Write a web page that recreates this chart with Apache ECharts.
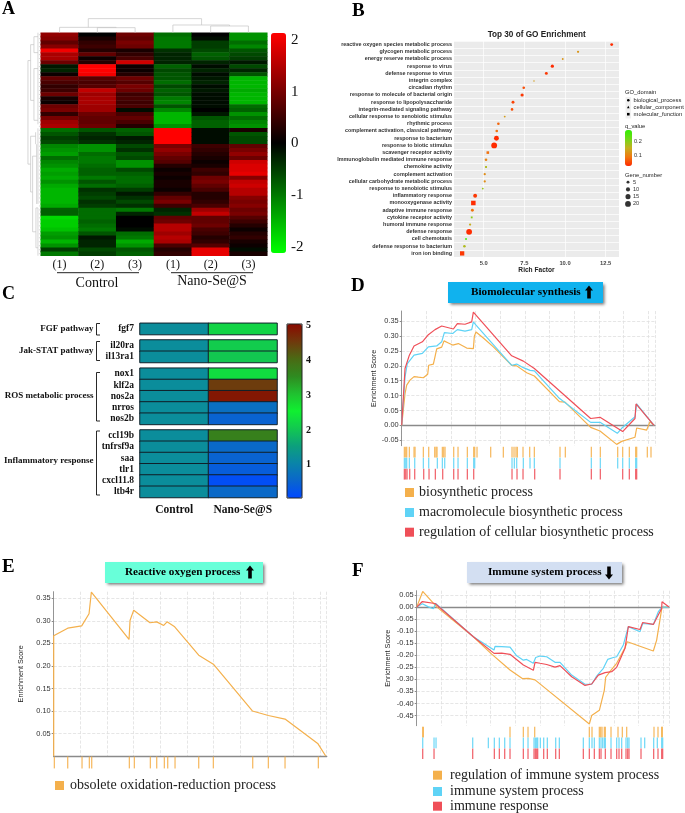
<!DOCTYPE html>
<html><head><meta charset="utf-8">
<style>html,body{margin:0;padding:0;background:#fff}#c{width:685px;height:813px}</style>
<script src="https://cdn.jsdelivr.net/npm/echarts@6/dist/echarts.min.js"></script>
</head><body><div id="c"></div>
<script>
// ---------- Panel A : expression heatmap ----------
const heatColumns = ['(1)','(2)','(3)','(1)','(2)','(3)'];
const control1 = [1.2,1.1,0.8,1.1,2.0,1.4,1.4,0.9,-0.2,-0.3,0.1,0.8,0.6,0.4,0.5,0.9,0.2,0.1,0.9,1.0,0.4,1.0,1.3,1.4,-0.9,-0.7,-0.5,-0.6,-1.1,-1.2,-1.3,-0.9,-1.1,-1.2,-1.4,-1.3,-1.4,-1.2,-1.4,-1.5,-1.5,-1.5,-1.5,-1.4,-0.8,-0.8,-1.8,-1.7,-1.7,-1.6,-1.3,-1.2,-1.5,-1.2,-0.5,-1.0];
const control2 = [0.0,0.2,0.4,0.5,0.3,0.8,0.1,0.3,2.1,2.1,2.0,0.7,0.6,0.7,1.6,1.3,1.4,1.4,1.3,1.3,0.9,0.8,0.8,0.9,-0.7,-0.4,-0.3,-0.4,-1.2,-1.2,-0.9,-1.0,-1.0,-0.9,-0.8,-0.8,-1.0,-0.7,-0.9,-0.4,-0.5,-0.6,-0.4,-0.5,-0.9,-0.9,-0.9,-0.8,-0.9,-1.0,-0.7,-0.2,-0.3,-0.3,-0.6,-0.5];
const control3 = [0.9,0.8,1.0,0.9,0.2,0.4,0.6,1.7,0.1,0.1,0.3,0.9,0.7,1.0,0.9,0.5,0.6,0.5,0.6,-0.1,0.6,0.8,0.6,0.3,-0.8,-0.7,-0.2,-0.3,-0.6,-0.4,-0.7,-0.6,-1.2,-1.2,-0.6,-0.8,-0.9,-0.9,-0.8,-0.5,-0.2,-0.4,-0.6,-0.4,-1.0,-0.3,0.0,0.0,0.0,-0.1,-0.9,-1.0,-1.4,-1.2,-0.7,-0.8];
const nano1 = [-0.9,-1.0,-1.0,-1.0,-0.4,-0.3,-0.3,-0.3,-0.8,-0.6,-0.7,-0.7,-0.9,-0.6,-0.8,-0.7,-1.0,-1.1,-0.7,-1.1,-1.5,-1.5,-1.5,-1.2,2.1,2.1,2.1,2.1,1.0,1.2,1.0,0.8,0.7,0.3,0.1,0.2,0.1,0.2,0.2,0.1,0.4,0.8,1.0,0.5,-0.3,-0.4,0.8,0.9,1.5,1.5,1.3,1.5,1.4,0.6,0.3,0.4];
const nano2 = [0.0,-0.1,-0.5,-0.5,-0.6,-0.8,-0.7,-0.3,-0.1,-0.3,-0.1,-0.2,-0.3,-0.1,-0.2,-0.1,-0.1,-0.1,-0.1,0.0,-0.2,-0.7,-0.8,-0.8,-0.1,-0.1,-0.1,-0.1,0.5,0.4,0.3,0.2,0.1,0.2,0.5,0.4,0.9,1.0,0.8,0.6,0.3,0.3,0.4,0.6,1.3,1.6,0.8,0.8,0.9,0.6,0.5,0.3,0.4,0.7,1.9,1.9];
const nano3 = [-1.2,-1.2,-0.9,-1.1,-0.7,-0.6,-0.5,-0.2,-0.6,-0.3,-0.7,-1.5,-1.5,-1.5,-1.4,-1.5,-1.5,-1.5,-0.9,-0.8,-1.2,-0.9,-1.1,-1.2,0.2,-0.7,-0.6,-0.6,0.8,1.0,1.2,0.9,1.7,1.8,1.8,1.9,1.1,1.6,1.7,1.5,1.5,1.1,1.0,1.1,0.9,1.0,0.7,0.5,0.3,0.1,0.3,0.4,0.2,0.1,-0.1,0.2];
const heatValues = [control1,control2,control3,nano1,nano2,nano3];
const heatTicks = [-2,-1,0,1,2];
// dendrogram links: [x1,h1,x2,h2]
const dendroTop = [[1.26,42,4.26,42],[1.26,42,1.26,16],[4.26,42,4.26,23],[0.5,16,2.0,16],[0.5,16,0.5,0],[2.0,16,2.0,15],[1.5,15,2.5,15],[1.5,15,1.5,0],[2.5,15,2.5,0],[3.5,23,5.0,23],[3.5,23,3.5,0],[5.0,23,5.0,20],[4.5,20,5.5,20],[4.5,20,4.5,0],[5.5,20,5.5,0]];
const dendroLeft = [[38,7,38,33],[38,7,30,7],[30,3,30,17],[30,3,20,3],[20,1,20,5],[30,17,20,17],[20,9,20,22],[20,1,8,1],[20,5,8,5],[20,9,8,9],[20,22,8,22],[8,0,8,8],[8,8,8,23],
  [38,33,30,33],[30,26,30,40],[30,26,15,26],[15,25,15,28],[30,40,24,40],[24,31,24,50],[24,31,12,31],[24,50,14,50],[14,44,14,54],[12,28,12,43],[14,44,8,44],[14,54,8,54],[8,24,8,43],[8,44,8,56]];

// ---------- Panel B : GO enrichment ----------
const goTerms = ['reactive oxygen species metabolic process','glycogen metabolic process','energy reserve metabolic process','response to virus','defense response to virus','integrin complex','circadian rhythm','response to molecule of bacterial origin','response to lipopolysaccharide','integrin-mediated signaling pathway','cellular response to xenobiotic stimulus','rhythmic process','complement activation, classical pathway','response to bacterium','response to biotic stimulus','scavenger receptor activity','Immunoglobulin mediated immune response','chemokine activity','complement activation','cellular carbohydrate metabolic process','response to xenobiotic stimulus','inflammatory response','monooxygenase activity','adaptive immune response','cytokine receptor activity','humoral immune response','defense response','cell chemotaxis','defense response to bacterium','iron ion binding'];
const richFactor = [12.87,10.8,9.86,9.22,8.85,8.09,7.46,7.36,6.8,6.74,6.29,5.9,5.8,5.78,5.64,5.25,5.14,5.14,5.06,5.06,4.94,4.47,4.36,4.3,4.26,4.16,4.1,3.91,3.81,3.67];
const geneNumber = [5,3,2,6,5,2,4,6,5,4,2,4,4,14,20,4,4,2,3,3,2,9,12,5,2,3,20,2,4,11];
const qValue = [.02,.12,.12,.02,.03,.13,.05,.03,.04,.05,.13,.07,.08,.02,.02,.08,.1,.17,.11,.11,.19,.03,.02,.08,.2,.15,.02,.28,.17,.03];
const goDomain = ['BP','BP','BP','BP','BP','CC','BP','BP','BP','BP','BP','BP','BP','BP','BP','MF','BP','MF','BP','BP','BP','BP','MF','BP','MF','BP','BP','BP','BP','MF'];
const domainNames = {BP:'biological_process',CC:'cellular_component',MF:'molecular_function'};
const domainSymbols = {BP:'circle',CC:'triangle',MF:'rect'};
const richTicks = [5,7.5,10,12.5];
const qTicks = [0.1,0.2];
const geneKeys = ['5','10','15','20'];

// ---------- Panel C : pathway heatmap ----------
const pathwayGroups = [
  {name:'FGF pathway', genes:['fgf7'], nano:[2.2], control:[1.2]},
  {name:'Jak-STAT pathway', genes:['il20ra','il13ra1'], nano:[2.1,2.05], control:[1.2,1.2]},
  {name:'ROS metabolic process', genes:['nox1','klf2a','nos2a','nrros','nos2b'], nano:[2.3,4.5,4.9,0.7,0.5], control:[1.2,1.2,1.2,1.2,1.2]},
  {name:'Inflammatory response', genes:['ccl19b','tnfrsf9a','saa','tlr1','cxcl11.8','ltb4r'], nano:[3.7,0.6,0.5,0.4,0.15,0.6], control:[1.2,1.2,1.2,1.2,1.2,1.2]}
];
const groupColumns = ['Control','Nano-Se@S'];
const pathwayTicks = [1,2,3,4,5];

// ---------- Panels D, E, F : enrichment score curves ([rank, score]) ----------
const esBiosynthetic = [[0,0],[10,.107],[15,.135],[25,.152],[37,.164],[50,.162],[65,.16],[78,.172],[81,.202],[95,.206],[101,.236],[105,.257],[120,.263],[127,.284],[140,.277],[153,.27],[170,.275],[195,.26],[215,.258],[218,.30],[223,.314],[245,.294],[275,.264],[330,.202],[345,.20],[375,.177],[398,.166],[473,.08],[490,.078],[567,-.007],[595,-.019],[645,-.064],[660,-.054],[700,-.04],[705,-.009],[735,-.016],[745,.012],[757,0]];
const esMacromolecule = [[0,0],[10,.163],[17,.208],[37,.236],[62,.242],[80,.264],[105,.267],[120,.281],[128,.312],[153,.309],[167,.322],[190,.317],[210,.322],[215,.348],[223,.337],[330,.202],[345,.206],[365,.194],[385,.185],[398,.183],[473,.091],[567,.01],[595,.01],[647,-.027],[660,-.01],[700,.029],[705,.072],[757,0]];
const esRegulation = [[0,0],[10,.191],[23,.236],[37,.267],[62,.281],[80,.305],[100,.322],[120,.334],[155,.324],[167,.342],[190,.34],[210,.348],[215,.381],[330,.234],[365,.216],[398,.191],[567,.023],[595,.027],[663,-.021],[700,.023],[703,.072],[757,0]];
const rugBiosynthetic = [8,12,15,23,37,40,65,81,99,103,106,122,126,130,156,169,197,216,219,226,267,305,331,337,343,347,364,384,398,475,491,569,596,648,663,683,702,705,737,748];
const rugMacromolecule = [8,12,15,23,39,65,81,107,122,129,156,169,197,216,219,331,338,345,365,385,398,475,569,596,648,663,683,702,705];
const rugRegulation = [8,12,16,24,39,66,82,101,123,156,169,197,216,331,346,364,399,475,569,596,663,683,702,705];
const esOxidation = [[0,0],[0,.267],[42,.284],[84,.289],[106,.316],[113,.364],[226,.259],[229,.301],[240,.324],[289,.296],[309,.298],[330,.29],[340,.298],[363,.287],[435,.224],[479,.204],[596,.10],[644,.09],[694,.082],[792,.028],[816,0]];
const rugOxidation = [2,42,85,107,114,227,242,290,309,332,342,364,435,479,597,644,694,794];
const esImmuneRegulation = [[0,0],[18,.065],[60,.001],[170,-.123],[225,-.195],[280,-.261],[318,-.297],[335,-.296],[355,-.302],[518,-.485],[525,-.45],[548,-.428],[563,-.344],[567,-.291],[585,-.258],[600,-.233],[625,-.169],[632,-.144],[710,-.182],[720,-.137],[736,0],[757,0]];
const esImmuneSystem = [[0,0],[17,.014],[35,.001],[50,-.007],[57,.015],[170,-.123],[232,-.178],[235,-.163],[255,-.164],[280,-.166],[300,-.202],[320,-.22],[330,-.217],[350,-.233],[357,-.209],[370,-.203],[390,-.206],[415,-.229],[430,-.229],[465,-.282],[505,-.32],[525,-.32],[540,-.286],[560,-.254],[573,-.217],[590,-.209],[600,-.206],[620,-.157],[635,-.081],[670,-.102],[678,-.068],[710,-.072],[725,-.019],[736,0],[757,0]];
const esImmuneResponse = [[0,0],[17,.023],[55,.015],[170,-.123],[232,-.192],[255,-.191],[280,-.196],[320,-.24],[350,-.262],[355,-.229],[370,-.233],[390,-.238],[415,-.249],[430,-.243],[465,-.289],[505,-.325],[525,-.319],[545,-.282],[565,-.272],[585,-.268],[600,-.25],[625,-.171],[635,-.081],[670,-.093],[678,-.064],[710,-.072],[735,-.006],[736,.022],[757,0]];
const rugImmuneRegulation = [18,20,280,320,334,354,518,526,548,552,556,563,566,583,604,617,630,712,724,735,737];
const rugImmuneSystem = [18,52,58,168,215,233,248,264,280,320,334,352,356,360,363,371,381,392,417,428,500,518,526,533,548,553,558,563,566,583,600,607,615,628,633,637,673,684,711,722,735,738];
const rugImmuneResponse = [18,52,168,233,248,264,280,320,334,352,356,360,363,381,392,417,428,500,518,533,548,553,566,583,600,607,615,628,633,637,673,711,724,735,738];
const esTicksD = [-.05,0,.05,.10,.15,.20,.25,.30,.35];
const esTicksE = [.05,.10,.15,.20,.25,.30,.35];
const esTicksF = [-.45,-.40,-.35,-.30,-.25,-.20,-.15,-.10,-.05,0,.05];

const ORANGE='#f4b04c', BLUE='#5fd3f6', RED='#ef4f58';
const SERIF='"Liberation Serif"', SANS='"Liberation Sans"';

const grids=[],xAxes=[],yAxes=[],series=[],visualMaps=[],legends=[],graphics=[];
function addGrid(g,x,y){grids.push(Object.assign({containLabel:false},g));const i=grids.length-1;
  xAxes.push(Object.assign({gridIndex:i},x));yAxes.push(Object.assign({gridIndex:i},y));return i;}
const hiddenAxis=(o)=>Object.assign({show:false},o);
function text(x,y,s,font,fill,align){graphics.push({type:'text',x:x,y:y,silent:true,style:{text:s,font:font,fill:fill||'#000',align:align||'left',verticalAlign:'middle',textAlign:align||'left',textVerticalAlign:'middle'}});}
function poly(points,stroke,w){graphics.push({type:'polyline',silent:true,shape:{points:points},style:{stroke:stroke||'#000',lineWidth:w||1,fill:null}});}

// ---- Panel letters
text(2,9,'A','bold 18px '+SERIF);
text(352,11,'B','bold 19px '+SERIF);
text(2,294,'C','bold 18px '+SERIF);
text(351,286,'D','bold 19px '+SERIF);
text(2,567,'E','bold 19px '+SERIF);
text(352,571,'F','bold 19px '+SERIF);

// ---- A
const gA=addGrid({left:40.7,top:32.7,width:226.6,height:223},
  {type:'category',data:heatColumns,axisLine:{show:false},axisTick:{show:false},axisLabel:{interval:0,fontFamily:SERIF,fontSize:12,color:'#111',margin:3},splitLine:{show:false}},
  {type:'category',inverse:true,data:control1.map((_,i)=>'g'+i),show:false});
const heatIdx=series.length;
series.push({type:'heatmap',xAxisIndex:gA,yAxisIndex:gA,data:heatValues.flatMap((col,c)=>col.map((v,r)=>[c,r,v])),itemStyle:{borderWidth:0},emphasis:{disabled:true},silent:true,progressive:0,animation:false});
visualMaps.push({type:'continuous',min:-2.1,max:2.1,seriesIndex:heatIdx,left:271,top:33,itemWidth:15,itemHeight:220,padding:0,calculable:false,text:null,hoverLink:false,inRange:{color:['#00ff00','#000000','#ff0000']}});
const gAbar=addGrid({left:271,top:33,width:15,height:220},
  hiddenAxis({type:'value',min:0,max:1}),
  {type:'value',position:'right',min:-2.12,max:2.14,axisLine:{show:false},axisTick:{show:false,customValues:heatTicks},splitLine:{show:false},axisLabel:{customValues:heatTicks,fontFamily:SERIF,fontSize:15,color:'#111',margin:5}});
series.push({type:'line',xAxisIndex:gAbar,yAxisIndex:gAbar,data:[],silent:true});
function linkSeries(links,gi){series.push({type:'custom',xAxisIndex:gi,yAxisIndex:gi,silent:true,clip:false,animation:false,data:links,encode:{x:[0,2],y:[1,3]},
  renderItem:(p,api)=>{const a=api.coord([api.value(0),api.value(1)]),b=api.coord([api.value(2),api.value(3)]);
    return {type:'line',shape:{x1:a[0],y1:a[1],x2:b[0],y2:b[1]},style:{stroke:'#c4c4c4',lineWidth:.7}};}});}
const gDT=addGrid({left:40.7,top:18.3,width:226.6,height:14.4},hiddenAxis({type:'value',min:0,max:6}),hiddenAxis({type:'value',min:0,max:43}));
linkSeries(dendroTop,gDT);
const gDL=addGrid({left:27.3,top:32.7,width:13.3,height:223},hiddenAxis({type:'value',min:0,max:40,inverse:true}),hiddenAxis({type:'value',min:0,max:56,inverse:true}));
linkSeries(dendroLeft.concat(control1.map((_,r)=>[0,r+.5,5,r+.5])),gDL);
poly([[57,272.7],[139,272.7]],'#222',1);
poly([[171,272.7],[253,272.7]],'#222',1);
text(97,283,'Control','14px '+SERIF,'#111','center');
text(212,281,'Nano-Se@S','14px '+SERIF,'#111','center');

// ---- B
const gB=addGrid({left:454,top:41,width:165,height:216,show:true,backgroundColor:'#ebebeb',borderWidth:0},
  {type:'value',min:3.17,max:13.32,axisLine:{show:false},axisTick:{length:2,lineStyle:{color:'#555',width:.6},customValues:richTicks},
   axisLabel:{customValues:richTicks,formatter:v=>v.toFixed(1),fontFamily:SANS,fontSize:5.8,fontWeight:'bold',color:'#444',margin:3},
   splitLine:{show:true,lineStyle:{color:'#fff',width:.7}},name:'Rich Factor',nameLocation:'middle',nameGap:9,nameTextStyle:{fontFamily:SANS,fontSize:6.6,fontWeight:'bold',color:'#222'}},
  {type:'category',inverse:true,data:goTerms,boundaryGap:true,axisLine:{show:false},axisTick:{length:2,alignWithLabel:true,lineStyle:{color:'#555',width:.6}},
   axisLabel:{interval:0,fontFamily:SANS,fontSize:5.4,fontWeight:'bold',color:'#333',margin:2},splitLine:{show:true,interval:0,lineStyle:{color:'#fff',width:.7}}});
const scatterIdx=[];
Object.keys(domainNames).forEach(k=>{scatterIdx.push(series.length);
  series.push({name:domainNames[k],type:'scatter',xAxisIndex:gB,yAxisIndex:gB,symbol:domainSymbols[k],silent:true,animation:false,
    symbolSize:v=>Math.sqrt(v[3])*1.3,itemStyle:{color:'#000',opacity:1},
    data:goTerms.map((t,i)=>[richFactor[i],t,qValue[i],geneNumber[i],goDomain[i]]).filter(d=>d[4]===k)});});
visualMaps.push({type:'continuous',min:.018,max:.288,dimension:2,seriesIndex:scatterIdx,left:625,top:130,itemWidth:7,itemHeight:36,padding:0,calculable:false,text:null,hoverLink:false,inRange:{color:['#ff2a00','#f07810','#c4b020','#70d818','#30f000']}});
text(536.7,35,'Top 30 of GO Enrichment','bold 8.2px '+SANS,'#222','center');
text(625,92.5,'GO_domain','5.8px '+SANS,'#222');
text(625,126.5,'q_value','5.8px '+SANS,'#222');
text(625,175,'Gene_number','5.8px '+SANS,'#222');
graphics.push({type:'rect',silent:true,z:-1,shape:{x:625.5,y:97,width:5.5,height:21.5},style:{fill:'#f0f0f0'}});
const domainCenters=[100.7,107.5,114.7];
Object.values(domainNames).forEach((n,i)=>legends.push({orient:'vertical',left:627,top:domainCenters[i]-3.5,padding:0,itemWidth:2.6,itemHeight:2.6,selectedMode:false,data:[n],textStyle:{fontFamily:SANS,fontSize:5.8,color:'#222',padding:[0,0,0,-1]},itemStyle:{color:'#000'}}));
const gQ=addGrid({left:625,top:130,width:7,height:36},hiddenAxis({type:'value',min:0,max:1}),
  {type:'value',position:'right',min:.018,max:.288,axisLine:{show:false},axisTick:{show:false,customValues:qTicks},splitLine:{show:false},axisLabel:{customValues:qTicks,formatter:v=>v.toFixed(1),fontFamily:SANS,fontSize:5.6,color:'#333',margin:2}});
series.push({type:'line',xAxisIndex:gQ,yAxisIndex:gQ,data:[],silent:true});
const gGene=addGrid({left:625,top:178.5,width:6,height:29},hiddenAxis({type:'value',min:0,max:1}),
  {type:'category',position:'right',inverse:true,data:geneKeys,axisLine:{show:false},axisTick:{show:false},axisLabel:{interval:0,fontFamily:SANS,fontSize:5.6,color:'#333',margin:2}});
series.push({type:'scatter',xAxisIndex:gGene,yAxisIndex:gGene,silent:true,animation:false,symbolSize:v=>Math.sqrt(+v[1])*1.3,itemStyle:{color:'#000'},data:geneKeys.map(k=>[.5,k])});

// ---- C
const cColors=['#0048ff','#0a66cc','#0a84a8','#0ca07c','#12c850','#10f030','#20c030','#2f8a20','#4a6a14','#70380c','#8a0a00'];
const rowH=11.25, cTops=[323.3,340,368.2,430];
const cIdx=[];
pathwayGroups.forEach((g,gi)=>{
  const isLast=gi===pathwayGroups.length-1;
  const idx=addGrid({left:140,top:cTops[gi],width:137,height:rowH*g.genes.length},
    {type:'category',data:groupColumns,axisLine:{show:false},axisTick:{show:false},splitLine:{show:false},
      axisLabel:{show:isLast,interval:0,fontFamily:SERIF,fontWeight:'bold',fontSize:11.5,color:'#111',margin:7}},
    {type:'category',inverse:true,data:g.genes,axisLine:{show:false},axisTick:{show:false},splitLine:{show:false},
      axisLabel:{interval:0,fontFamily:SERIF,fontWeight:'bold',fontSize:9.5,color:'#111',margin:6}});
  cIdx.push(series.length);
  series.push({type:'heatmap',xAxisIndex:idx,yAxisIndex:idx,silent:true,animation:false,emphasis:{disabled:true},itemStyle:{borderColor:'#10202a',borderWidth:1},
    data:g.genes.flatMap((n,r)=>[[0,r,g.control[r]],[1,r,g.nano[r]]])});
});
visualMaps.push({type:'continuous',min:.05,max:5.04,seriesIndex:cIdx,left:287,top:324,itemWidth:15,itemHeight:174,padding:0,calculable:false,text:null,hoverLink:false,inRange:{color:cColors}});
const gCbar=addGrid({left:287,top:324,width:15,height:174},hiddenAxis({type:'value',min:0,max:1}),
  {type:'value',position:'right',min:.05,max:5.04,axisLine:{show:false},axisTick:{show:true,inside:false,length:2,customValues:pathwayTicks,lineStyle:{color:'#111'}},splitLine:{show:false},axisLabel:{customValues:pathwayTicks,fontFamily:SERIF,fontWeight:'bold',fontSize:10,color:'#111',margin:4}});
series.push({type:'line',xAxisIndex:gCbar,yAxisIndex:gCbar,data:[],silent:true});
graphics.push({type:'rect',silent:true,z:50,shape:{x:287,y:324,width:15,height:174},style:{fill:null,stroke:'#222',lineWidth:1}});
const groupLabelY=[329,351,396,461];
pathwayGroups.forEach((g,i)=>text(93.5,groupLabelY[i],g.name,'bold 9px '+SERIF,'#111','right'));
[[323.5,335],[341.5,360.5],[372.5,421],[431,495]].forEach(b=>poly([[100,b[0]],[96.5,b[0]],[96.5,b[1]],[100,b[1]]],'#111',.9));

// ---- banners
function banner(x,y,w,h,fill,label,tx,ax,up){
  graphics.push({type:'rect',silent:true,shape:{x,y,width:w,height:h},style:{fill,shadowBlur:3,shadowOffsetX:1.5,shadowOffsetY:1.5,shadowColor:'rgba(0,0,0,.55)'}});
  text(tx,y+h/2,label,'bold 11.2px '+SERIF,'#000');
  const c=y+h/2, d=up?-1:1;
  graphics.push({type:'polygon',silent:true,shape:{points:[[ax,c+d*7],[ax-4,c+d*2],[ax-1.8,c+d*2],[ax-1.8,c-d*6],[ax+1.8,c-d*6],[ax+1.8,c+d*2],[ax+4,c+d*2]]},style:{fill:'#000'}});
}
banner(448,282,155,21,'#10b2ee','Biomolecular synthesis',471,589,true);
banner(105,562,158,21,'#68ffd9','Reactive oxygen process',125,250,true);
banner(467,562,155,21,'#d3dff2','Immune system process',488,609,false);

// ---- GSEA helper
function gsea(p){
  const g=addGrid({left:p.left,top:p.top,width:p.width,height:p.height},
   {type:'value',min:0,max:p.xMax,interval:p.xInt,axisLine:{show:true,onZero:true,lineStyle:{color:'#8a8a8a',width:1.4}},axisTick:{show:false},axisLabel:{show:false},splitLine:{show:true,lineStyle:{type:'dashed',color:'#e0e0e0',width:.8}}},
   {type:'value',min:p.yMin,max:p.yMax,axisLine:{show:true,lineStyle:{color:'#8a8a8a',width:.9}},axisTick:{show:true,length:2,customValues:p.ticks,lineStyle:{color:'#8a8a8a'}},
    axisLabel:{customValues:p.ticks,formatter:v=>v.toFixed(2),fontFamily:SANS,fontSize:7.4,color:'#333',margin:3},
    splitLine:{show:true,lineStyle:{type:'dashed',color:'#e0e0e0',width:.8}},name:'Enrichment Score',nameLocation:'middle',nameGap:p.nameGap,nameTextStyle:{fontFamily:SANS,fontSize:7.2,color:'#222'}});
  p.lines.forEach(l=>series.push({name:l.name,type:'line',xAxisIndex:g,yAxisIndex:g,data:l.data,showSymbol:false,silent:true,animation:false,lineStyle:{color:l.color,width:1.2},itemStyle:{color:l.color},z:3}));
  const rows=p.lines.map(l=>l.name);
  const r=addGrid({left:p.left,top:p.rugTop,width:p.width,height:p.rugH*rows.length},
   hiddenAxis({type:'value',min:0,max:p.xMax}),hiddenAxis({type:'category',inverse:true,data:rows}));
  p.lines.forEach(l=>series.push({type:'scatter',xAxisIndex:r,yAxisIndex:r,symbol:'rect',symbolSize:[1.3,p.rugH-.2],silent:true,animation:false,itemStyle:{color:l.color,opacity:.85},data:l.rug.map(x=>[x,l.name])}));
  rows.forEach((n,i)=>legends.push({orient:'vertical',padding:0,left:p.legendLeft,top:p.legendCenters[i]-6.5,itemWidth:9,itemHeight:9,icon:'rect',selectedMode:false,data:[n],textStyle:{fontFamily:SERIF,fontSize:14,color:'#222',padding:[0,0,0,p.legendPad]}}));
}
gsea({left:401.7,top:311,width:253.3,height:134.7,xMax:760,xInt:74,yMin:-.0685,yMax:.3846,ticks:esTicksD,nameGap:24,rugTop:446.7,rugH:11,
  legendLeft:405,legendCenters:[492,512,531.7],legendPad:0,
  lines:[{name:'biosynthetic process',data:esBiosynthetic,color:ORANGE,rug:rugBiosynthetic},
         {name:'macromolecule biosynthetic process',data:esMacromolecule,color:BLUE,rug:rugMacromolecule},
         {name:'regulation of cellular biosynthetic process',data:esRegulation,color:RED,rug:rugRegulation}]});
gsea({left:53.7,top:591.7,width:273,height:164.3,xMax:819,xInt:80,yMin:0,yMax:.365,ticks:esTicksE,nameGap:29,rugTop:756.5,rugH:12,
  legendLeft:55,legendCenters:[785],legendPad:1,
  lines:[{name:'obsolete oxidation-reduction process',data:esOxidation,color:ORANGE,rug:rugOxidation}]});
gsea({left:416.7,top:590.7,width:252.3,height:135,xMax:757,xInt:74,yMin:-.492,yMax:.068,ticks:esTicksF,nameGap:25,rugTop:726.7,rugH:10.8,
  legendLeft:433,legendCenters:[774.7,791,805.7],legendPad:3,
  lines:[{name:'regulation of immune system process',data:esImmuneRegulation,color:ORANGE,rug:rugImmuneRegulation},
         {name:'immune system process',data:esImmuneSystem,color:BLUE,rug:rugImmuneSystem},
         {name:'immune response',data:esImmuneResponse,color:RED,rug:rugImmuneResponse}]});

const chart=echarts.init(document.getElementById('c'),null,{renderer:'canvas'});
chart.setOption({animation:false,backgroundColor:'#fff',grid:grids,xAxis:xAxes,yAxis:yAxes,series:series,visualMap:visualMaps,legend:legends,graphic:{elements:graphics},tooltip:{show:false}});
</script></body></html>
